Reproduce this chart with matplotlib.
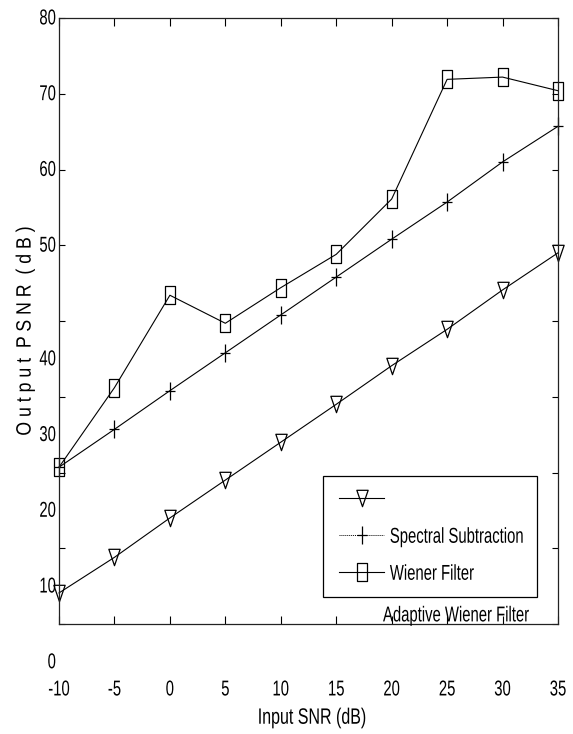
import matplotlib
matplotlib.use("Agg")
import matplotlib.pyplot as plt
from matplotlib.path import Path
from matplotlib.lines import Line2D
from matplotlib.patheffects import AbstractPathEffect
import matplotlib.transforms as mtransforms

# ---- data ----
input_snr = [-10, -5, 0, 5, 10, 15, 20, 25, 30, 35]
wiener = [20.7, 31.2, 43.4, 39.7, 44.4, 48.8, 56.1, 71.9, 72.2, 70.4]
spectral = [20.7, 25.7, 30.8, 35.8, 40.8, 45.8, 50.8, 55.7, 61.0, 65.7]
adaptive = [4.1, 8.8, 14.0, 19.0, 24.0, 29.0, 34.1, 38.9, 44.1, 49.0]

xticks = [-10, -5, 0, 5, 10, 15, 20, 25, 30, 35]
yticks = [0, 10, 20, 30, 40, 50, 60, 70, 80]
legend_labels = ["", "Spectral Subtraction", "Wiener Filter"]
extra_label = "Adaptive Wiener Filter"
xlabel = "Input SNR (dB)"
ylabel = "O u t p u t  P S N R  ( d B )"

plt.rcParams["font.family"] = ["Liberation Sans", "DejaVu Sans"]


class Stretch(AbstractPathEffect):
    """Scale glyph outlines in the text's own frame (tall, narrow look)."""

    def __init__(self, sx=1.0, sy=1.0, anchor="center", ay=36.0):
        super().__init__()
        self.sx = sx
        self.sy = sy
        self.anchor = anchor
        self.ay = ay

    def draw_path(self, renderer, gc, tpath, affine, rgbFace=None):
        ext = tpath.get_extents()
        if self.anchor == "left":
            a = ext.x0
        elif self.anchor == "right":
            a = ext.x1
        else:
            a = 0.5 * (ext.x0 + ext.x1)
        t = (mtransforms.Affine2D().translate(-a, -self.ay)
             .scale(self.sx, self.sy).translate(a, self.ay) + affine)
        renderer.draw_path(gc, tpath, t, rgbFace)


# ---- custom (vertically stretched) markers ----
rect_marker = Path([(-0.27, -0.5), (0.27, -0.5), (0.27, 0.5), (-0.27, 0.5), (-0.27, -0.5)],
                   [Path.MOVETO, Path.LINETO, Path.LINETO, Path.LINETO, Path.CLOSEPOLY])
tri_marker = Path([(-0.345, 0.5), (0.345, 0.5), (0.0, -0.5), (-0.345, 0.5)],
                  [Path.MOVETO, Path.LINETO, Path.LINETO, Path.CLOSEPOLY])
plus_marker = Path([(-0.28, 0.0), (0.28, 0.0), (0.0, -0.5), (0.0, 0.5)],
                   [Path.MOVETO, Path.LINETO, Path.MOVETO, Path.LINETO])

fig = plt.figure(figsize=(5.73, 7.34), dpi=100)
ax = fig.add_axes([59 / 573, 1 - 624 / 734, 499 / 573, 606 / 734])

lw = 0.8
ms = 12.4
common = dict(color="black", linewidth=lw, markerfacecolor="none",
              markeredgecolor="black", markeredgewidth=0.9, clip_on=False)
ax.plot(input_snr, adaptive, marker=tri_marker, markersize=11.8, **common)
ax.plot(input_snr, spectral, marker=plus_marker, markersize=ms, **common)
ax.plot(input_snr, wiener, marker=rect_marker, markersize=ms, **common)

ax.set_xlim(-10, 35)
ax.set_ylim(0, 80)

for s in ax.spines.values():
    s.set_linewidth(0.9)
    s.set_color("#222222")

SX = 0.69
FS = 15.5 * SX          # narrow size, glyphs stretched up vertically
SY = 1 / SX

ax.set_xticks(xticks)
ax.set_xticklabels([str(v) for v in xticks])
ax.tick_params(axis="x", direction="in", top=True, bottom=True, length=6,
               width=0.8, pad=41.8, labelsize=FS)
for lab in ax.get_xticklabels():
    lab.set_path_effects([Stretch(1.0, SY, "center")])
ax.set_yticks(yticks)
ax.set_yticklabels([])
ax.tick_params(axis="y", direction="in", left=True, right=True, length=4.5,
               width=0.8, labelleft=False)

# misplaced y tick labels (as in reference)
trans = mtransforms.blended_transform_factory(ax.transAxes, ax.transData)
off = mtransforms.offset_copy(trans, fig=fig, x=-3, y=0, units="dots")
for v in yticks:
    pos = v if v >= 50 else v - 5
    ax.text(0, pos, str(v), transform=off, ha="right", va="center",
            fontsize=FS, clip_on=False, path_effects=[Stretch(1.0, SY, "right")])

xl = ax.set_xlabel(xlabel, fontsize=16 * 0.72, va="center")
xl.set_path_effects([Stretch(1.0, 1 / 0.72, "center")])
ax.xaxis.set_label_coords((312 - 59) / 499, (624 - 717) / 606)

fig.text(25 / 573, 1 - 331 / 734, ylabel, rotation=90, ha="center",
         va="center", fontsize=15 * 0.85,
         path_effects=[Stretch(1.0, 1 / 0.85, "center")])

# legend
handles = [
    Line2D([], [], color="black", linewidth=lw, marker=tri_marker, markersize=11.8,
           markerfacecolor="none", markeredgecolor="black", markeredgewidth=0.9),
    Line2D([], [], color="black", linewidth=0.7, linestyle=(0, (1, 1)), marker=plus_marker,
           markersize=ms, markeredgecolor="black", markeredgewidth=0.9),
    Line2D([], [], color="black", linewidth=lw, marker=rect_marker, markersize=ms,
           markerfacecolor="none", markeredgecolor="black", markeredgewidth=0.9),
]
x0 = (323 - 59) / 499
x1 = (537 - 59) / 499
ytop = (624 - 476) / 606
leg = ax.legend(handles, legend_labels, loc="upper left",
                bbox_to_anchor=(x0, 0, x1 - x0, ytop), mode="expand",
                borderaxespad=0, fontsize=FS, numpoints=1, handlelength=3.0,
                handletextpad=0.4, labelspacing=1.55, borderpad=1.1,
                fancybox=False, framealpha=1, edgecolor="black")
leg.get_frame().set_linewidth(0.9)
for t in leg.get_texts():
    t.set_path_effects([Stretch(1.0, SY, "left")])

ax.text((383 - 59) / 499, (624 - 615) / 606, extra_label, transform=ax.transAxes,
        ha="left", va="center", fontsize=FS,
        path_effects=[Stretch(1.0, SY, "left")])

fig.savefig("out.png", dpi=100)
